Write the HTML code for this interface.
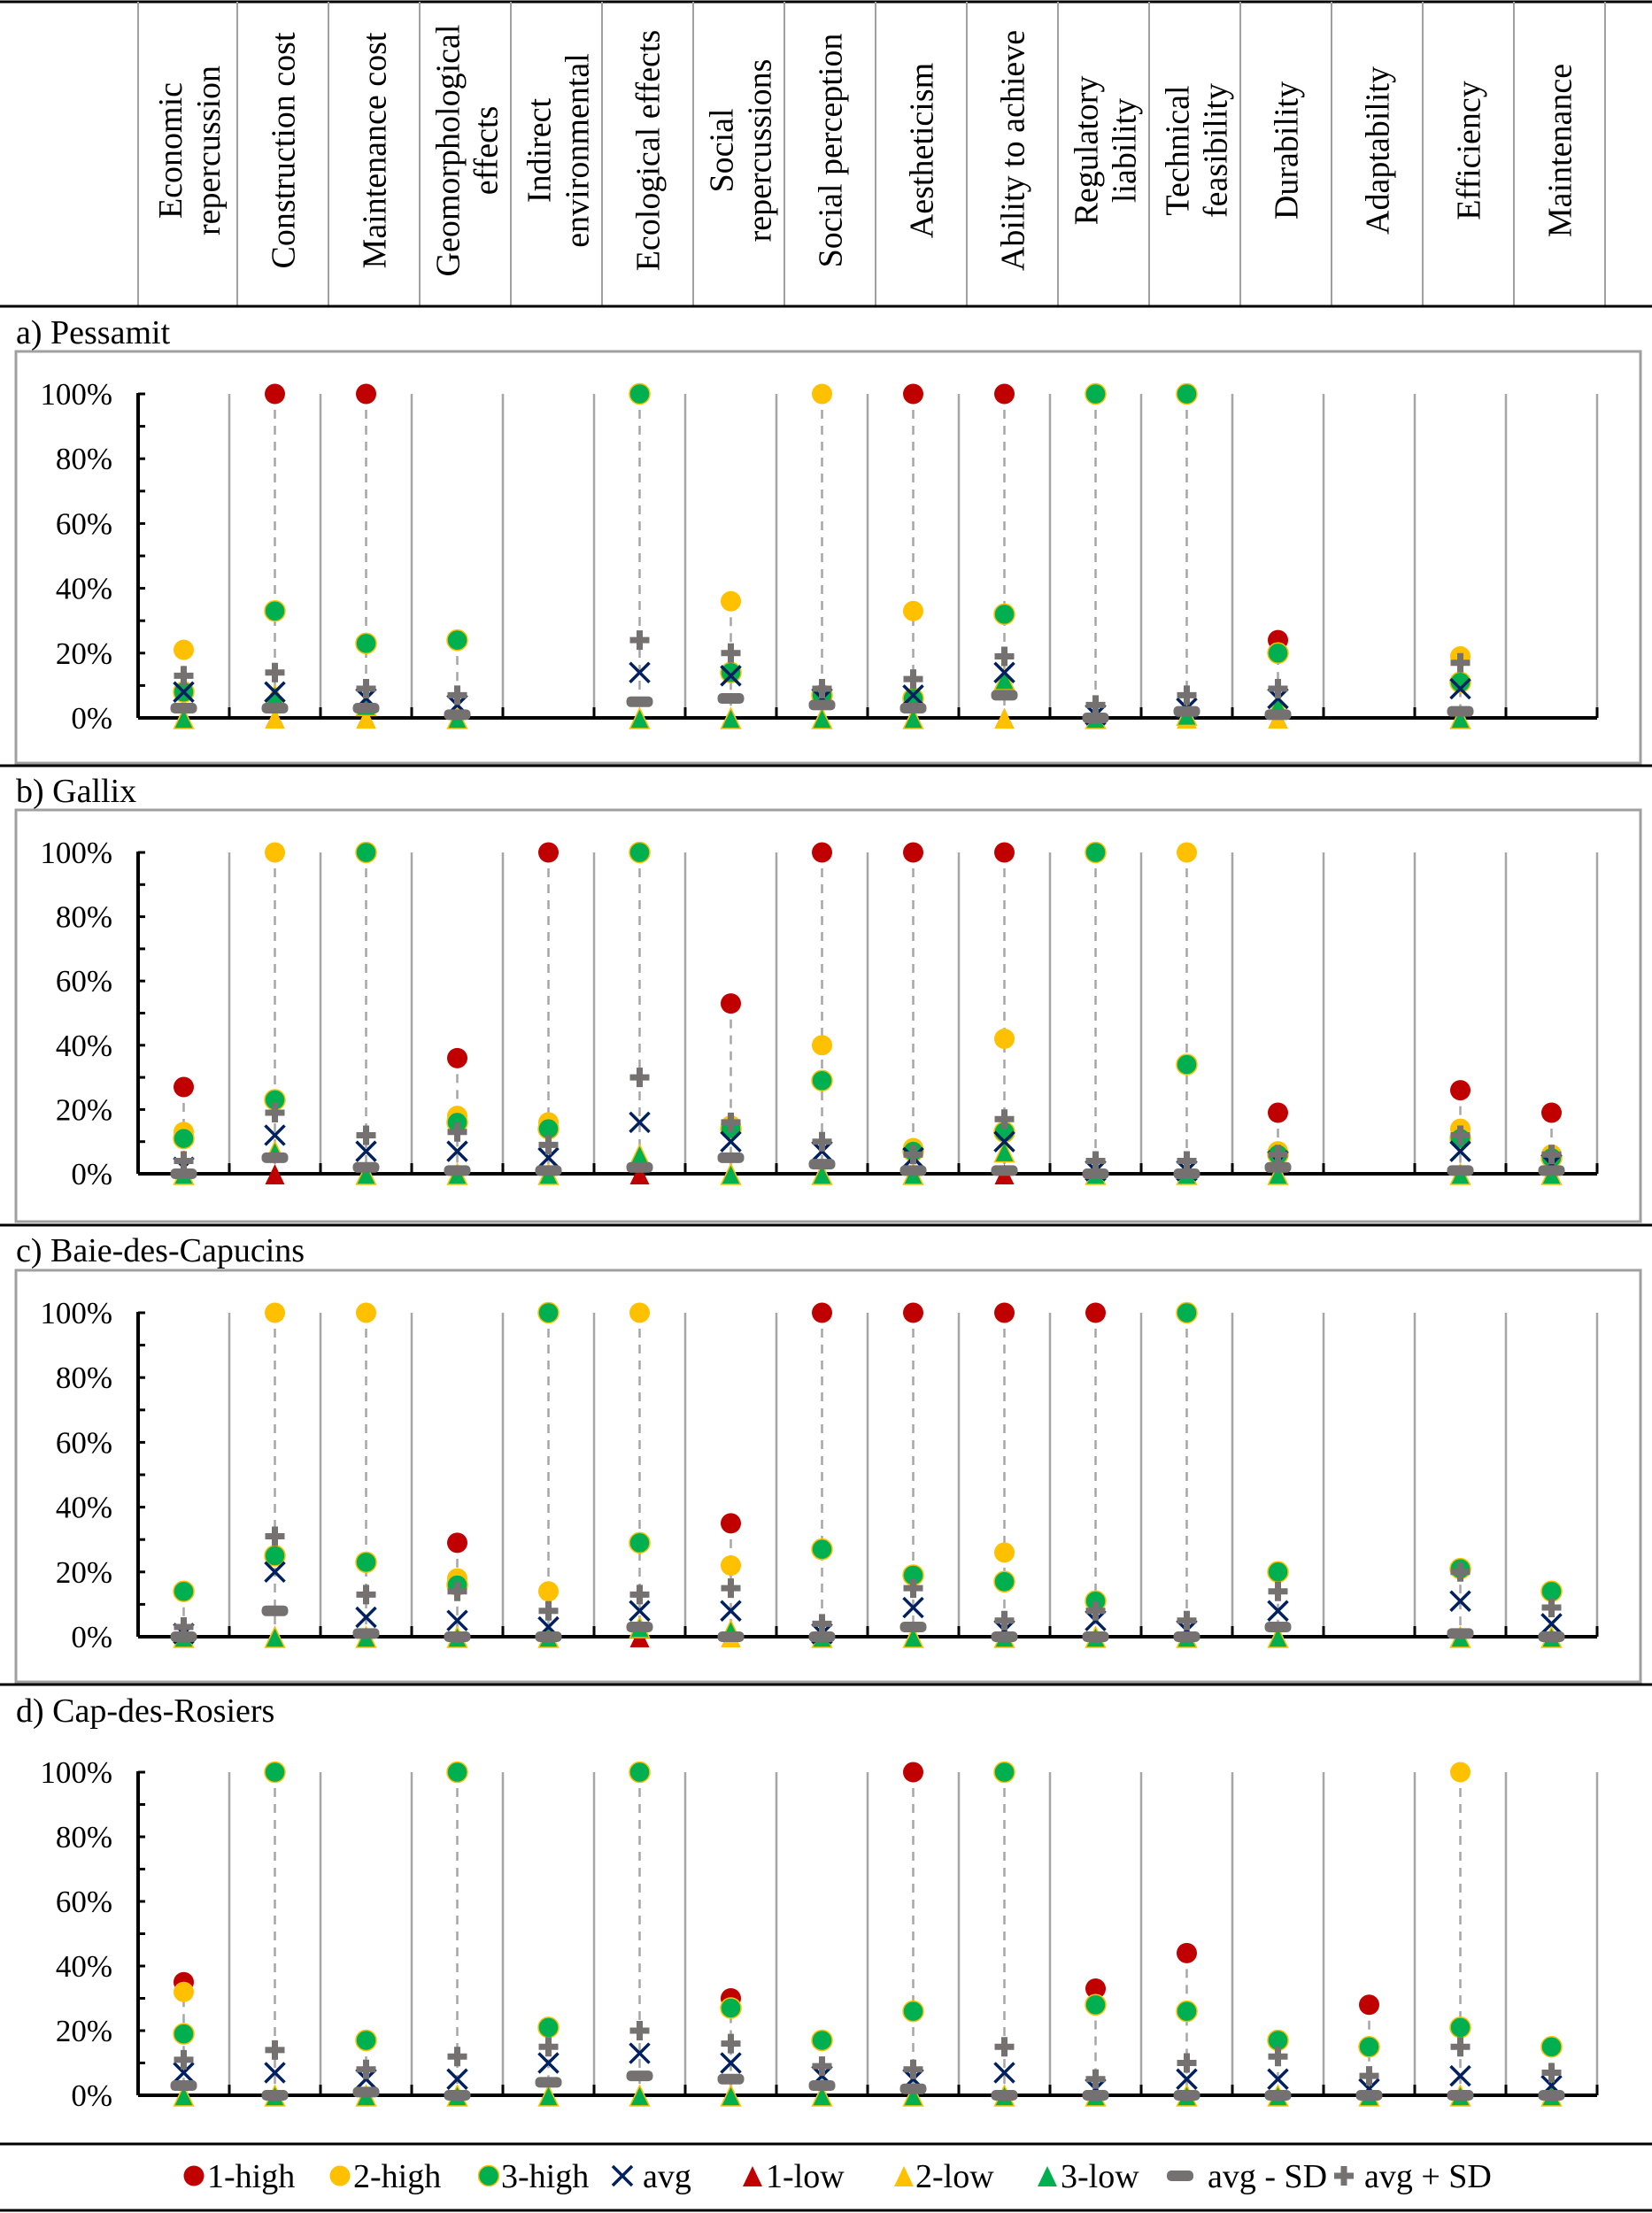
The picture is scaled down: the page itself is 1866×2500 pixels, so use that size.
<!DOCTYPE html>
<html><head><meta charset="utf-8"><style>
html,body{margin:0;padding:0;background:#fff;}
svg{display:block;font-family:"Liberation Serif",serif;}
</style></head><body>
<svg id="chart" width="1866" height="2500" viewBox="0 0 1866 2500" xmlns="http://www.w3.org/2000/svg">
<rect x="0" y="0" width="1866" height="2500" fill="#fff"/>
<g id="header"></g>
<g id="panels"></g>
<g id="legend"></g>
</svg>
<script>
const categories = [["Economic","repercussion"],["Construction cost"],["Maintenance cost"],["Geomorphological","effects"],["Indirect","environmental"],["Ecological effects"],["Social","repercussions"],["Social perception"],["Aestheticism"],["Ability to achieve"],["Regulatory","liability"],["Technical","feasibility"],["Durability"],["Adaptability"],["Efficiency"],["Maintenance"]];
const yTicks = [0,20,40,60,80,100];
const panelTitles = ["a) Pessamit","b) Gallix","c) Baie-des-Capucins","d) Cap-des-Rosiers"];
const seriesNames = ["1-high","2-high","3-high","avg","1-low","2-low","3-low","avg - SD","avg + SD"];

const N = null;
// Panel a) Pessamit
const aHigh1 = [N,100,100,N,N,N,N,N,100,100,N,N,24,N,N,N];
const aHigh2 = [21,N,N,N,N,N,36,100,33,N,N,N,N,N,19,N];
const aHigh3 = [8,33,23,24,N,100,14,7,6,32,100,100,20,N,11,N];
const aAvg   = [8,8,6,4,N,14,13,6,7,14,1,3,6,N,9,N];
const aLow1  = [0,0,0,0,N,0,0,0,0,0,0,0,0,N,0,N];
const aLow2  = [0,0,0,0,N,0,0,0,0,0,0,0,0,N,0,N];
const aLow3  = [0,7,4,0,N,0,0,0,0,12,0,1,4,N,0,N];
const aSdMinus = [3,3,3,1,N,5,6,4,3,7,0,2,1,N,2,N];
const aSdPlus  = [13,14,9,7,N,24,20,9,12,19,4,7,9,N,17,N];
// Panel b) Gallix
const bHigh1 = [27,N,N,36,100,N,53,100,100,100,N,N,19,N,26,19];
const bHigh2 = [13,100,N,18,16,N,15,40,8,42,N,100,7,N,14,6];
const bHigh3 = [11,23,100,16,14,100,14,29,7,13,100,34,6,N,11,5];
const bAvg   = [2,12,7,7,5,16,10,7,5,10,1,1,4,N,7,3];
const bLow1  = [0,0,0,0,0,0,0,0,0,0,0,0,0,N,0,0];
const bLow2  = [0,7,0,0,0,6,0,0,0,7,0,0,0,N,0,0];
const bLow3  = [0,7,0,0,0,6,0,0,0,7,0,0,0,N,0,0];
const bSdMinus = [0,5,2,1,1,2,5,3,1,1,0,0,2,N,1,1];
const bSdPlus  = [4,19,12,13,9,30,16,10,6,17,4,4,6,N,12,6];
// Panel c) Baie-des-Capucins
const cHigh1 = [N,N,N,29,N,N,35,100,100,100,100,N,N,N,N,N];
const cHigh2 = [N,100,100,18,14,100,22,N,19,26,11,N,N,N,21,N];
const cHigh3 = [14,25,23,16,100,29,N,27,19,17,11,100,20,N,21,14];
const cAvg   = [1,20,6,5,3,8,8,1,9,2,5,2,8,N,11,4];
const cLow1  = [0,0,0,0,0,0,0,0,0,0,0,0,0,N,0,0];
const cLow2  = [0,0,0,0,0,3,0,0,0,0,0,0,0,N,0,0];
const cLow3  = [0,0,0,0,0,3,2,0,0,0,0,0,0,N,0,0];
const cSdMinus = [0,8,1,0,0,3,0,0,3,0,0,0,3,N,1,0];
const cSdPlus  = [3,31,13,14,8,13,15,4,15,5,8,5,14,N,20,9];
// Panel d) Cap-des-Rosiers
const dHigh1 = [35,N,N,N,N,N,30,N,100,N,33,44,N,28,N,N];
const dHigh2 = [32,N,N,N,N,N,N,N,N,N,N,N,N,N,100,N];
const dHigh3 = [19,100,17,100,21,100,27,17,26,100,28,26,17,15,21,15];
const dAvg   = [7,7,5,5,10,13,10,6,5,7,2,5,5,2,6,3];
const dLow1  = [0,0,0,0,0,0,0,0,0,0,0,0,0,0,0,0];
const dLow2  = [0,0,0,0,0,0,0,0,0,0,0,0,0,0,0,0];
const dLow3  = [0,0,0,0,0,0,0,0,0,0,0,0,0,0,0,0];
const dSdMinus = [3,0,1,0,4,6,5,3,2,0,0,0,0,0,0,0];
const dSdPlus  = [11,14,8,12,15,20,16,9,8,15,5,10,12,6,15,7];

const NS = "http://www.w3.org/2000/svg";
function mk(tag, attrs, parent){const e=document.createElementNS(NS,tag);for(const k in attrs)e.setAttribute(k,attrs[k]);if(parent)parent.appendChild(e);return e;}

const RED="#c00000",YEL="#ffc000",GRN="#00b050",NAVY="#002060",GRAY="#767171";
const plotLeft=156, band=103;
function xCenter(i){return plotLeft+band/2+band*i;}

// header
const header=document.getElementById('header');
const hl=mk('line',{x1:0,y1:2,x2:1866,y2:2,stroke:'#000','stroke-width':3},header);


const colLines=[156];for(let i=0;i<16;i++)colLines.push(268+103*i);
colLines.forEach(x=>{const l=mk('line',{x1:x,y1:2,x2:x,y2:346,stroke:'#a0a0a0','stroke-width':2},header);

});
categories.forEach((lines,i)=>{
  const left=colLines[i],right=colLines[i+1],cx=(left+right)/2;
  const g=mk('g',{},header);
  
  
  const bases = lines.length===1?[cx+13]:[cx-7,cx+36];
  lines.forEach((t,j)=>{const tx=mk('text',{transform:`translate(${bases[j]},170) rotate(-90)`,'text-anchor':'middle','font-size':38,fill:'#000'},g);tx.textContent=t;});
});

// separators
[346,865,1384,1903,2422,2497].forEach(y=>{const l=mk('line',{x1:0,y1:y,x2:1866,y2:y,stroke:'#000','stroke-width':3},header);

});

const panelDefs=[
 {title:0,labelY:388,box:[397,862],y0:811,y100:445,data:[aHigh1,aHigh2,aHigh3,aAvg,aLow1,aLow2,aLow3,aSdMinus,aSdPlus]},
 {title:1,labelY:906,box:[915,1380],y0:1326,y100:963,data:[bHigh1,bHigh2,bHigh3,bAvg,bLow1,bLow2,bLow3,bSdMinus,bSdPlus]},
 {title:2,labelY:1425,box:[1435,1900],y0:1849,y100:1483,data:[cHigh1,cHigh2,cHigh3,cAvg,cLow1,cLow2,cLow3,cSdMinus,cSdPlus]},
 {title:3,labelY:1945,box:null,y0:2367,y100:2002,data:[dHigh1,dHigh2,dHigh3,dAvg,dLow1,dLow2,dLow3,dSdMinus,dSdPlus]}
];

function drawCircle(g,x,y,fill,stroke){const c=mk('circle',{cx:x,cy:y,r:11.5,fill:fill},g);if(stroke){c.setAttribute('stroke',stroke);c.setAttribute('stroke-width',1.5);}return c;}
function drawTri(g,x,y,fill,stroke){const p=mk('polygon',{points:`${x-11},${y+12} ${x+11},${y+12} ${x},${y-11}`,fill:fill},g);if(stroke){p.setAttribute('stroke',stroke);p.setAttribute('stroke-width',1.5);}return p;}
function drawX(g,x,y){return mk('path',{d:`M${x-11},${y-11}L${x+11},${y+11}M${x+11},${y-11}L${x-11},${y+11}`,stroke:NAVY,'stroke-width':3.5,fill:'none'},g);}
function drawDash(g,x,y){return mk('rect',{x:x-15,y:y-6,width:30,height:12,rx:5,fill:GRAY},g);}
function drawPlus(g,x,y){return mk('path',{d:`M${x-11},${y}L${x+11},${y}M${x},${y-11}L${x},${y+11}`,stroke:GRAY,'stroke-width':7,fill:'none'},g);}

const panels=document.getElementById('panels');
panelDefs.forEach(p=>{
  const g=mk('g',{},panels);
  
  
  const yS=v=>p.y0-(v/100)*(p.y0-p.y100);
  const t=mk('text',{x:18,y:p.labelY,'font-size':38,fill:'#000'},g);t.textContent=panelTitles[p.title];
  
  
  if(p.box){const b=mk('rect',{x:18,y:p.box[0],width:1835,height:p.box[1]-p.box[0],fill:'none',stroke:'#a0a0a0','stroke-width':3},g);
    
    }
  for(let k=1;k<=16;k++){const x=plotLeft+band*k;
    const l=mk('line',{x1:x,y1:yS(100),x2:x,y2:p.y0,stroke:'#a6a6a6','stroke-width':2.5},g);
    
    
    mk('line',{x1:x,y1:p.y0-12,x2:x,y2:p.y0,stroke:'#000','stroke-width':3},g);}
  const ax=mk('g',{},g);
  
  
  mk('line',{x1:plotLeft,y1:yS(100)-1,x2:plotLeft,y2:p.y0,stroke:'#000','stroke-width':4},ax);
  for(let v=0;v<=100;v+=10){mk('line',{x1:plotLeft,y1:yS(v),x2:plotLeft+8,y2:yS(v),stroke:'#000','stroke-width':3},ax);}
  yTicks.forEach(v=>{const tt=mk('text',{x:127,y:yS(v)+12,'text-anchor':'end','font-size':35,fill:'#000'},ax);tt.textContent=v+'%';
    
    });
  const xa=mk('line',{x1:plotLeft,y1:p.y0,x2:plotLeft+band*16,y2:p.y0,stroke:'#000','stroke-width':4},g);
  
  
  for(let i=0;i<16;i++){
    const vals=p.data.map(s=>s[i]).filter(v=>v!==null&&v!==undefined);
    if(!vals.length)continue;
    const cg=mk('g',{},g);
    
    
    const x=xCenter(i),mx=Math.max(...vals),mn=Math.min(...vals);
    if(mx>mn){const hll=mk('line',{x1:x,y1:yS(mx),x2:x,y2:yS(mn),stroke:'#a6a6a6','stroke-width':2.5,'stroke-dasharray':'10 8'},cg);
      
      }
    const d=p.data;let m;
    if(d[0][i]!=null){m=drawCircle(cg,x,yS(d[0][i]),RED);}
    if(d[1][i]!=null){m=drawCircle(cg,x,yS(d[1][i]),YEL);}
    if(d[2][i]!=null){m=drawCircle(cg,x,yS(d[2][i]),GRN,YEL);}
    if(d[4][i]!=null){m=drawTri(cg,x,yS(d[4][i]),RED);}
    if(d[5][i]!=null){m=drawTri(cg,x,yS(d[5][i]),YEL);}
    if(d[6][i]!=null){m=drawTri(cg,x,yS(d[6][i]),GRN,YEL);}
    if(d[3][i]!=null){m=drawX(cg,x,yS(d[3][i]));}
    if(d[7][i]!=null){m=drawDash(cg,x,yS(d[7][i]));}
    if(d[8][i]!=null){m=drawPlus(cg,x,yS(d[8][i]));}
  }
});

const legend=document.getElementById('legend');
const legX=[[219,234],[384,399],[552,566],[703,726],[850,865],[1021,1034],[1183,1198],[1333,1364],[1518,1541]];
const ly=2458;
seriesNames.forEach((name,i)=>{
  const g=mk('g',{},legend);
  
  
  const x=legX[i][0];
  if(i===0)drawCircle(g,x,ly,RED);
  if(i===1)drawCircle(g,x,ly,YEL);
  if(i===2)drawCircle(g,x,ly,GRN,YEL);
  if(i===3)drawX(g,x,ly);
  if(i===4)drawTri(g,x,ly,RED);
  if(i===5)drawTri(g,x,ly,YEL);
  if(i===6)drawTri(g,x,ly,GRN);
  if(i===7)drawDash(g,x,ly);
  if(i===8)drawPlus(g,x,ly);
  const t=mk('text',{x:legX[i][1],y:ly+13,'font-size':38,fill:'#000'},g);t.textContent=name;
});
</script>
</body></html>
